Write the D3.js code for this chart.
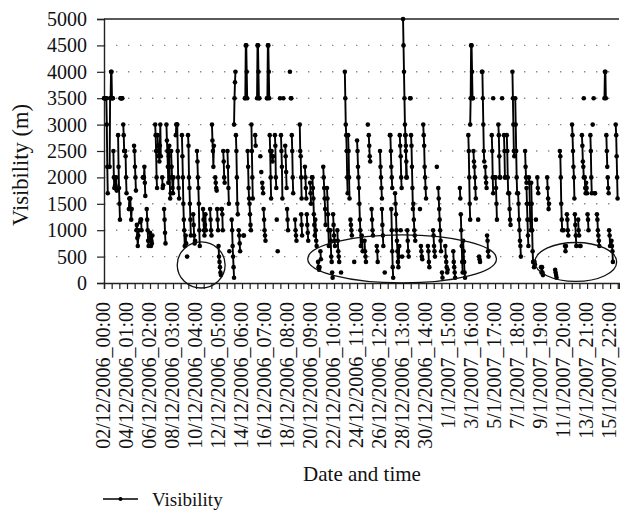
<!DOCTYPE html>
<html><head><meta charset="utf-8">
<script src="https://cdn.jsdelivr.net/npm/d3@7"></script>
<style>body{margin:0;background:#fff}svg{display:block}</style>
</head><body>
<svg id="c" width="620" height="511"></svg>
<script>
// ---- data ----
const xLabels = ["02/12/2006_00:00","04/12/2006_01:00","06/12/2006_02:00","08/12/2006_03:00","10/12/2006_04:00","12/12/2006_05:00","14/12/2006_06:00","16/12/2006_07:00","18/12/2006_08:00","20/12/2006_09:00","22/12/2006_10:00","24/12/2006_11:00","26/12/2006_12:00","28/12/2006_13:00","30/12/2006_14:00","1/1/2007_15:00","3/1/2007_16:00","5/1/2007_17:00","7/1/2007_18:00","9/1/2007_19:00","11/1/2007_20:00","13/1/2007_21:00","15/1/2007_22:00"];
const labelStepHours = 49;
const totalHours = 1097;
const yTicks = [0,500,1000,1500,2000,2500,3000,3500,4000,4500,5000];
// hour offset (from 02/12/2006 00:00) at which each run of hourly observations starts
const runStart = [
 0,12,20,23,30,35,41,45,53,64,69,77,83,91,97,109,114,124,128,133,143,153,166,174,177,179,190,198,
 211,226,230,237,241,244,250,254,263,267,272,277,281,287,297,300,306,314,322,326,333,335,337,340,347,353,357,364,368,370,375,377,382,386,390,396,398,400,407,417,
 420,428,432,439,443,450,456,461,467,475,482,486,488,497,505,513,520,525,533,539,549,555,562,564,570,581,588,592,598,609,612,620,630,
 632,635,637,642,646,652,654,659,673,675,680,690,701,709,712,720,727,744,758,760,765,776,780,787,797,799,805,812,816,826,829,833,840,848,852,
 858,863,870,876,882,897,900,905,910,915,920,923,931,944,961,971,979,982,986,997,1003,1010,1014,1018,1022,1024,1027,1030,1036,1041,1043,1045,1050,1066,1070,1073,1076,1081,1090
];
// visibility (m) of each hourly observation in a run
const runVals = [
 [3500,3500,3500,3500,3500,3500,3000,2200,1700],[2200,3500,3500,4000,4000,3500,3500,3500],[2500,2000,1800],[2000,1850,1800,2000,1750],
 [2800,2200,1800,1500,1200],[3500,3500,3500,3500,3500],[3000,2800,2500,2500],[2500,2400,2000,1700],[1400,1600,1600,1600,1400,1200,1400],
 [2600,2500,2200,2000,1750],[1000,1100,850,700,900,1000],[1150,1200,1200,1000],[2000,2000,2000,2200,1900,1650],[1400,1200,1000,800,700],
 [800,950,850,700,800,750,900],[3000,2800,2500,2000,1800],[2800,2600,2400,2500,2300,2600,3000,2400],[2000,1800,1850],[1400,1200,950,750],
 [3000,2700,2500,2200,1900,2400,2600,2000,1600,1700],[2500,2200,2000,1800,1700,2000],[2800,3000,3000,3000,2500,2000,1800,1600],
 [2800,2400,2000,1500,1200,1000,700],[900,750],[500],[2800,2600,2000,1800,1500,1200,900],[1300,1100,900,750,800],[2500,2300,2000,1800,1500,1000,700],

 [1400,1200,1000,900,1100,1300,1000],[1400,1200,1000,900],[3000,2700,2500,2200,2600],[2000,1900,1800,1750],[1400,1200,1000],
 [700,500,400,300,200,150],[1400,1400,1300,1000],[2500,2300,2000,1900],[2500,2200,1800,1500],[600],[1200,1000,700,500,300,100],
 [3000,3500,3800,4000],[2800,2500,2000,1500,1300],[1000,900,750,600],[900,900],[3500,3500,4500,4500,4000,3500],
 [2500,2200,1800,1600,1500,1300,1100,1000],[3000,2500,2000,1600],[2800,2600],[3500,4500,4500,4000,3500,3500],[2400],[2100],
 [1900,1800,1700],[1400,1200,1000,900,800],[3500,3500,4500,4500,4000,3500],[2800,2500,2000,1600],[2500,2400,2300,2400],
 [2800,2600,2000,1800],[1200],[600],[3500],[2800,2500,2200,1600],[3500],[2600,2400,2100,1800],[1400,1200,1000],[4000],[3500,3500],
 [2800,2500,2000,1700],[1200,1000,900,800],[3000,2500,2400,2000,1600],

 [1300,1100,900],[2200,2000,1800,1600],[1300,1100,950,800],[1900,1700,1500],[2000,2000,1800,1600,1300,1100,900],[1200,1000,800,700],
 [400,300,250,300],[600,450],[2200,2000,1800,1600,1400,1100],[1800,1600,1300,1000,700],[1000,800,500,400],[200,100],
 [1300,1100,900,800,700],[1000,800,600,500,400],[200],[4000,3500,3000,2800,2500,2000,1700],[2800,2500,2000,1600],[1200,1100,1000,900],
 [400],[2700,2500,2200,2000,1800,1500,1200,1000,700],[900,800,600],[800,600,500,400],[3000],[2800,2600,2400,2300],[1400,1200,1000,900],
 [700,600,400],[2500,2200,2000,1800,1600],[1400,1100,900,700],[200],[2800,2800,2500,2200,2000,1800],[1400,1000,600,300,100],
 [1700,1500,1300,1000,800,600,400,300,500,700],[2800,2600,2400,2000,1800],

 [1000],[500],[5000,4500,4000,3500,3000,2800,2500,2000],[2800,2600,2300,2000],[1000,800,600,500],[3500,3500],[2800,2600,2200,1800,1400],
 [1500,1200,1000,900,800],[1400],[700,600,500,450],[3000,2800,2600,2200,2000,1800,1600],[700,600,400,300],[1000,900,700,600,500],[2200],
 [1800,1600,1400,1200,1000,800,600],[200,100],[700,500,400,300,200,250],[600,400,300,200,100],[1800,1600],[1300,1000,700,400,200],
 [800,600,400,200,100],[2800,2500,2000,1500,1200],[3000,3500,4500,4500,4000,3500,3500],[2500,2300,2200,2000,1800,1600],[1200],
 [500,450,400],[4000,4000,3500,3000,2500,2300],[2200,2000,1900,1800],[900,800,600,500],[2800,2500,2000,1700],[3500],
 [2000,2000,1800,1500,1200],[3000,2800,2400,2000,2000],[3500],[2800,2500,2000,2000],

 [2800,2500,2000,1700],[1700,1400,1200,1100],[4000,3500,3000,2500,2400],[3500,3000,2500,2000,1700],[1700,1500,1200,1000,800,700,500],
 [2500,2200,2000,1900],[1800,1500,1200,900,700],[2000,1900,1500,1200,1000],[1900,1500,1000,600,400],[400,300,400,350],[1200],
 [2000,1800,1700],[300,200,300,200,150],[2000,1800,1600,1400,1500],[250,200,150,100],[2500,2400,2000,1500,1200,1000],[1000],
 [700,600,700],[1300,1200,1000,900],[3000,2800,2500,2200,2000,1600],[1300,1100,900,700],[1200,1000,900],[700,700],
 [2800,2600,2300,2200,2000],[3500],[2000,1800,1700],[1900,1800,1700],[1300,1200,1000],[2800,2500,2000,1700],[3000],[3500],
 [1700,1700],[1300,1200,1000,900,800,700],[3500,4000,4000,3500],[2800,2500,2200],[2000,1800,1700],[1000,900,700],[800,700,600,400],
 [3000,2800,2400,2000,1600]
];
// annotation ellipses (centre hour / value, half-width in hours, half-height in m)
const ellipseHour = [207, 635, 1005];
const ellipseValue = [341, 455, 398];
const ellipseHalfHours = [51, 201, 87];
const ellipseHalfValue = [436, 455, 369];
const seriesName = "Visibility";
const yTitle = "Visibility (m)";
const xTitle = "Date and time";

// ---- chart ----
const svg = d3.select("#c");
const FONT = "'Liberation Serif','Times New Roman',serif";
const x = d3.scaleLinear().domain([0, totalHours]).range([104, 619]);
const y = d3.scaleLinear().domain([0, 5000]).range([283, 19]);

// grid
svg.append("g").selectAll("line").data(yTicks.filter(d => d > 0 && d < 5000)).join("line")
  .attr("x1", x(0)).attr("x2", x(totalHours)).attr("y1", d => y(d)).attr("y2", d => y(d))
  .attr("stroke", "#8a8a8a").attr("stroke-width", 1.4).attr("stroke-dasharray", "1.4,10.6");
svg.append("line").attr("x1", x(0)).attr("x2", x(totalHours)).attr("y1", y(5000)).attr("y2", y(5000))
  .attr("stroke", "#222").attr("stroke-width", 1.4);

// y axis
const yAxis = svg.append("g").attr("transform", `translate(${x(0)},0)`)
  .call(d3.axisLeft(y).tickValues(yTicks).tickSize(7).tickPadding(10).tickFormat(d3.format("d")));
yAxis.select(".domain").attr("stroke", "#222").attr("stroke-width", 1.4);
yAxis.selectAll(".tick line").attr("stroke", "#222").attr("stroke-width", 1.2);
yAxis.selectAll("text").style("font-family", FONT).style("font-size", "20px").attr("fill", "#111");

// x axis
const minorTicks = d3.range(0, totalHours, labelStepHours / 3);
const xAxis = svg.append("g").attr("transform", `translate(0,${y(0)})`)
  .call(d3.axisBottom(x).tickValues(minorTicks).tickSize(6).tickFormat(""));
xAxis.select(".domain").attr("stroke", "#222").attr("stroke-width", 1.4);
xAxis.selectAll(".tick line").attr("stroke", "#222").attr("stroke-width", 1.2);
svg.append("g").selectAll("text").data(xLabels).join("text")
  .attr("transform", (d, i) => `translate(${x(i * labelStepHours) - 0.5},${y(0) + 19}) rotate(-90)`)
  .attr("text-anchor", "end").attr("dy", "0.33em")
  .style("font-family", FONT).style("font-size", "20px").attr("fill", "#111").text(d => d);

// titles
svg.append("text").attr("transform", `translate(28,165) rotate(-90)`).attr("text-anchor", "middle")
  .style("font-family", FONT).style("font-size", "22.5px").attr("fill", "#111").text(yTitle);
svg.append("text").attr("x", 362).attr("y", 481).attr("text-anchor", "middle")
  .style("font-family", FONT).style("font-size", "21px").attr("fill", "#111").text(xTitle);

// series
const runs = runVals.map((vals, r) => vals.map((v, i) => ({ h: runStart[r] + i, v })));
const line = d3.line().x(d => x(d.h)).y(d => y(d.v));
const gS = svg.append("g");
gS.selectAll("path").data(runs.filter(r => r.length > 1)).join("path")
  .attr("d", line).attr("fill", "none").attr("stroke", "#000").attr("stroke-width", 1.9);
gS.selectAll("circle").data(runs.flat()).join("circle")
  .attr("cx", d => x(d.h)).attr("cy", d => y(d.v)).attr("r", 2.3).attr("fill", "#000");

// ellipses
svg.append("g").selectAll("ellipse").data(ellipseHour).join("ellipse")
  .attr("cx", d => x(d)).attr("cy", (d, i) => y(ellipseValue[i]))
  .attr("rx", (d, i) => x(d + ellipseHalfHours[i]) - x(d))
  .attr("ry", (d, i) => y(0) - y(ellipseHalfValue[i]))
  .attr("fill", "none").attr("stroke", "#111").attr("stroke-width", 1.3);

// legend
const lg = svg.append("g");
lg.append("line").attr("x1", 103).attr("x2", 138).attr("y1", 499).attr("y2", 499).attr("stroke", "#000").attr("stroke-width", 1.4);
lg.append("circle").attr("cx", 120.5).attr("cy", 499).attr("r", 2).attr("fill", "#000");
lg.append("text").attr("x", 152).attr("y", 506).style("font-family", FONT).style("font-size", "19px").attr("fill", "#111").text(seriesName);
</script>
</body></html>
